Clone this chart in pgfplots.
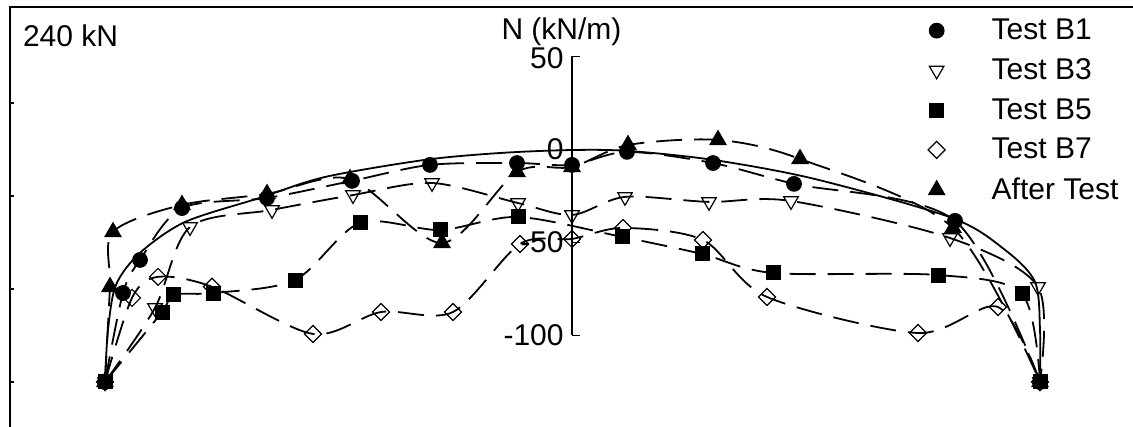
\documentclass[border=0pt]{standalone}
\usepackage{fontspec}
\setmainfont{Liberation Sans}
\usepackage{pgfplots}
\pgfplotsset{compat=1.18}
\begin{document}
\begin{tikzpicture}[font=\fontsize{15}{18}\selectfont]
\begin{axis}[
  scale only axis, width=562.5pt, height=211pt,
  xmin=-562, xmax=563, ymin=-150.3, ymax=76.6,
  axis line style={line width=0.9pt},
  xtick=\empty,
  ytick={25,-25,-75,-125}, yticklabels={}, ytick pos=left,
  tick align=inside, major tick length=2pt, tick style={line width=0.9pt, black},
  clip=false,
  legend style={draw=none, fill=none, inner sep=0pt, outer sep=0pt,
    at={(rel axis cs:0.8148,0.972)}, anchor=north west,
    row sep=8pt, nodes={inner sep=0pt},
    /tikz/every odd column/.append style={column sep=22.5pt}},
  legend cell align=left,
  legend image code/.code={\path[draw=none, fill=none] (0pt,-5pt) rectangle (10pt,5pt); \draw[#1] plot[only marks] coordinates {(5pt,0pt)};},
  every axis plot/.append style={line width=0.9pt, smooth, black, dash pattern=on 13pt off 6pt},
]
\addplot[forget plot, solid, no marks] coordinates {(-467,-124.5) (-464,-97) (-456,-72.8) (-432,-55.6) (-387,-39) (-312,-26) (-247,-14.8) (-147,-5.6) (-72,-1.9) (0,-0.3) (56,-0.8) (141,-5.6) (243,-15.9) (380,-36.8) (433,-54) (463,-71.2) (468,-97) (468,-124.5)};
\addplot[mark=*, mark size=3.5pt, mark options={solid, fill=black}] coordinates {(-467,-125) (-449,-77.2) (-432,-59.4) (-390,-31.5) (-305,-26.1) (-220,-16.9) (-142,-8.3) (-55,-7.3) (0,-8.3) (55,-1.3) (141,-7.3) (222,-18.5) (383,-38.4) (468,-125)};
\addlegendentry{Test B1}
\addplot[mark=triangle, mark size=4.2pt, mark options={solid, fill=white, rotate=180, line width=0.6pt}] coordinates {(-467,-125) (-417,-85.2) (-382,-41.7) (-300,-32.5) (-219,-24.5) (-140,-18.0) (-54,-28.8) (0,-35.2) (53,-25.5) (137,-28.2) (219,-27.7) (378,-47.6) (466,-73.9) (468,-125)};
\addlegendentry{Test B3}
\addplot[mark=square*, mark size=3.3pt, mark options={solid, fill=black}] coordinates {(-467,-125) (-410,-87.4) (-399,-78.2) (-359,-77.2) (-277,-70.2) (-212,-39.5) (-132,-43.3) (-54,-36.3) (50,-47.0) (130,-56.2) (201,-66.4) (366,-67.5) (450,-77.7) (468,-125)};
\addlegendentry{Test B5}
\addplot[mark=square, mark size=3pt, mark options={solid, fill=white, rotate=45, line width=0.6pt}] coordinates {(-467,-125) (-440,-79.8) (-414,-68.5) (-360,-73.8) (-259,-99.2) (-191,-87.4) (-119,-87.4) (-52,-50.8) (0,-48.1) (51,-42.2) (131,-48.7) (195,-79.3) (346,-98.7) (426,-84.7) (468,-125)};
\addlegendentry{Test B7}
\addplot[mark=triangle*, mark size=4.3pt, mark options={solid, fill=black}] coordinates {(-467,-125) (-462,-73.9) (-459,-44.4) (-390,-29.8) (-305,-23.9) (-222,-15.9) (-130,-50.3) (-55,-12.1) (0,-9.4) (56,2.4) (146,5.1) (228,-5.1) (381,-42.2) (468,-125)};
\addlegendentry{After Test}
\draw[line width=0.9pt] (axis cs:0,50) -- (axis cs:0,-100);
\draw[line width=0.9pt] (axis cs:0,50) -- ([xshift=4pt]axis cs:0,50);
\draw[line width=0.9pt] (axis cs:0,0) -- ([xshift=4pt]axis cs:0,0);
\draw[line width=0.9pt] (axis cs:0,-50) -- ([xshift=4pt]axis cs:0,-50);
\draw[line width=0.9pt] (axis cs:0,-100) -- ([xshift=4pt]axis cs:0,-100);
\node[anchor=east, inner sep=0pt] at ([xshift=-4pt, yshift=-1pt]axis cs:0,50) {50};
\node[anchor=east, inner sep=0pt] at ([xshift=-4pt]axis cs:0,0) {0};
\node[anchor=east, inner sep=0pt] at ([xshift=-4pt]axis cs:0,-50) {-50};
\node[anchor=east, inner sep=0pt] at ([xshift=-4pt]axis cs:0,-100) {-100};
\node[anchor=base west, inner sep=0pt] at ([xshift=6.3pt, yshift=-20pt]rel axis cs:0,1) {240 kN};
\node[anchor=base, inner sep=0pt] at ([yshift=1pt]axis cs:-10.5,58.1) {N (kN/m)};
\coordinate (SW) at (rel axis cs:0,0);
\coordinate (NE) at (rel axis cs:1,1);
\end{axis}
\pgfresetboundingbox
\path ([xshift=-5pt, yshift=1pt]SW) rectangle ([xshift=-1pt, yshift=3.5pt]NE);
\end{tikzpicture}
\end{document}
